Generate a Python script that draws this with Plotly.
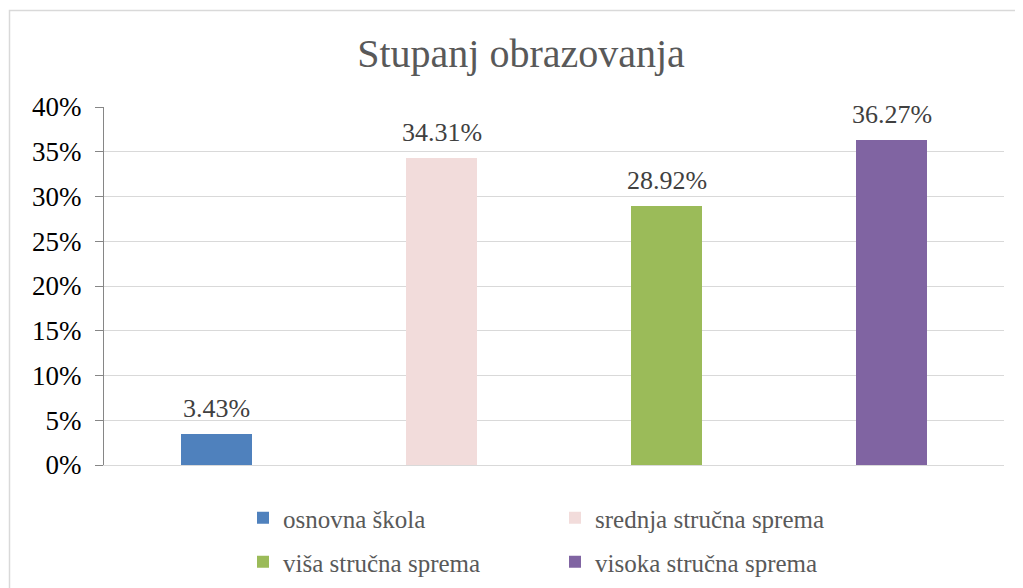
import plotly.graph_objects as go

categories = ["osnovna škola", "srednja stručna sprema", "viša stručna sprema", "visoka stručna sprema"]
values = [0.0343, 0.3431, 0.2892, 0.3627]
labels = ["3.43%", "34.31%", "28.92%", "36.27%"]
colors = ["#4F81BD", "#F2DCDB", "#9BBB59", "#8064A2"]
tick_vals = [0, 0.05, 0.10, 0.15, 0.20, 0.25, 0.30, 0.35, 0.40]
tick_text = ["0%", "5%", "10%", "15%", "20%", "25%", "30%", "35%", "40%"]

FONT = "Liberation Serif"
OFF = 8  # page body margin
W, H = 1023 - OFF, 588 - OFF
L, R, T, B = 104 - OFF, 19, 107 - OFF, 123
pw, ph = W - L - R, H - T - B

fig = go.Figure()
for i, (c, v, col) in enumerate(zip(categories, values, colors)):
    fig.add_trace(go.Bar(
        x=[c], y=[v], name=c, marker=dict(color=col, line=dict(width=0)),
        width=0.316,
        legend="legend" if i < 2 else "legend2",
        hoverinfo="skip",
    ))

annotations = [
    dict(x=c, y=v, xref="x", yref="y", text=lab, showarrow=False,
         yanchor="bottom", xanchor="center", yshift=9,
         font=dict(family=FONT, size=26, color="#404040"))
    for c, v, lab in zip(categories, values, labels)
]

def px_x(p):
    return (p - OFF - L) / pw

def px_y(p):
    return (H - B - (p - OFF)) / ph

legend_common = dict(
    orientation="h", entrywidth=267, entrywidthmode="pixels",
    font=dict(family=FONT, size=25, color="#595959"),
    bgcolor="rgba(0,0,0,0)", borderwidth=0,
    xanchor="left", yanchor="middle", tracegroupgap=0,
    itemclick=False, itemdoubleclick=False,
)

fig.update_layout(
    width=W, height=H,
    margin=dict(l=L, r=R, t=T, b=B, pad=0, autoexpand=False),
    paper_bgcolor="white", plot_bgcolor="white",
    barmode="overlay",
    bargap=0,
    title=dict(text="Stupanj obrazovanja", font=dict(family=FONT, size=40, color="#595959"),
               x=(521 - OFF) / W, xanchor="center", xref="container",
               y=1 - (53 - OFF) / H, yanchor="middle", yref="container"),
    xaxis=dict(showticklabels=False, showgrid=False, zeroline=False, automargin=False,
               showline=True, linecolor="#D9D9D9", linewidth=1.3, ticks="",
               categoryorder="array", categoryarray=categories, fixedrange=True),
    yaxis=dict(range=[0, 0.4], tickvals=tick_vals, ticktext=tick_text, automargin=False,
               showgrid=True, gridcolor="#D9D9D9", gridwidth=1.3,
               zeroline=False, showline=True, linecolor="#868686", linewidth=1.3,
               ticks="outside", ticklen=8, tickcolor="#868686", tickwidth=1.3,
               ticklabelstandoff=8,
               tickfont=dict(family=FONT, size=27, color="#000000"), fixedrange=True),
    legend=dict(x=px_x(243), y=px_y(518), **legend_common),
    legend2=dict(x=px_x(243), y=px_y(562), **legend_common),
    annotations=annotations,
    shapes=[dict(type="rect", xref="paper", yref="paper",
                 x0=px_x(9.5), x1=px_x(1045), y0=px_y(610), y1=px_y(10.5),
                 line=dict(color="#D9D9D9", width=1.5), fillcolor="rgba(0,0,0,0)", layer="below")],
    showlegend=True,
)

fig.write_html("out.html")
